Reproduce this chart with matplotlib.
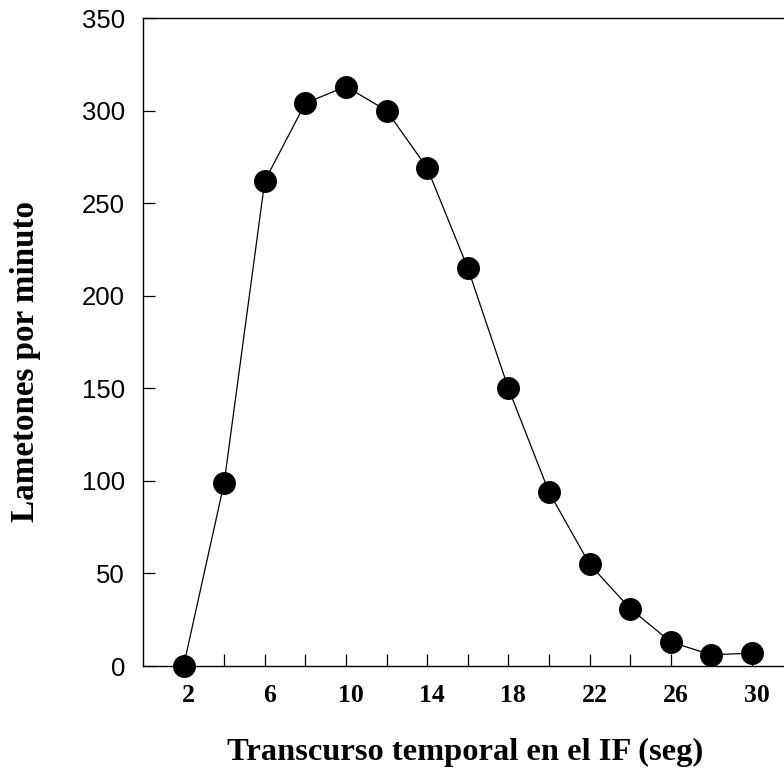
import numpy as np
import matplotlib.pyplot as plt
import matplotlib.transforms as mtransforms

# data
tiempo = [2, 4, 6, 8, 10, 12, 14, 16, 18, 20, 22, 24, 26, 28, 30]
lametones = [0, 99, 262, 304, 313, 300, 269, 215, 150, 94, 55, 31, 13, 6, 7]
xtick_pos = [2, 4, 6, 8, 10, 12, 14, 16, 18, 20, 22, 24, 26, 28, 30]
xtick_lab = ['2', '', '6', '', '10', '', '14', '', '18', '', '22', '', '26', '', '30']
ytick_pos = [0, 50, 100, 150, 200, 250, 300, 350]

fig = plt.figure(figsize=(7.84, 7.71), dpi=100)
ax = fig.add_axes([143 / 784, 1 - 666 / 771, 1 - 143 / 784, (666 - 18) / 771])

ax.plot(tiempo, lametones, color='black', lw=0.9, marker='o', ms=15.5,
        mfc='black', mec='black', clip_on=False, zorder=3)

ax.set_xlim(0, 31.58)
ax.set_ylim(0, 350)
ax.spines['right'].set_visible(False)
for s in ['left', 'top', 'bottom']:
    ax.spines[s].set_linewidth(1.0)

ax.set_yticks(ytick_pos)
ax.set_xticks(xtick_pos)
ax.set_xticklabels(xtick_lab, family='Liberation Serif', fontweight='bold', fontsize=18.5)
for t in ax.get_yticklabels():
    t.set_family('Liberation Sans')
    t.set_fontsize(18.5)
ax.tick_params(axis='both', direction='in', length=8.4, width=0.9)
ax.tick_params(axis='y', pad=13)
ax.tick_params(axis='x', pad=13)

# labels sit slightly right of their ticks in the original
shift = mtransforms.ScaledTranslation(5 / 100, 0, fig.dpi_scale_trans)
for t in ax.get_xticklabels():
    t.set_transform(t.get_transform() + shift)

fig.text(465 / 784, 1 - 752 / 771, 'Transcurso temporal en el IF (seg)',
         family='Liberation Serif', fontweight='bold', fontsize=23.4,
         ha='center', va='center')
fig.text(26 / 784, 1 - 361 / 771, 'Lametones por minuto',
         family='Liberation Serif', fontweight='bold', fontsize=23.9,
         ha='center', va='center', rotation=90)

fig.savefig('out.png', dpi=100)
